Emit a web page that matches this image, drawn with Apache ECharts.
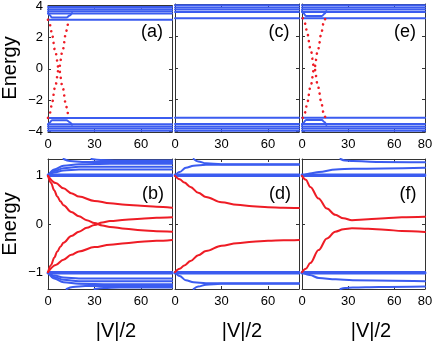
<!DOCTYPE html>
<html>
<head>
<meta charset="utf-8">
<script src="https://cdn.jsdelivr.net/npm/echarts@6/dist/echarts.min.js"></script>
<style>
html, body { margin: 0; padding: 0; background: #fff; }
#box { width: 436px; height: 344px; }
</style>
</head>
<body>
<div id="box"></div>
<script>
const BLUE = '#3b5cf0';
const RED = '#ee1c25';
const FONT = '"Liberation Sans", Arial, sans-serif';

// tick labels
const xTicks = [0, 30, 60];
const xTicksLast = [0, 30, 60, 80];
const yTicksTop = [-4, -2, 0, 2, 4];
const yTicksBottom = [-1, 0, 1];

// top row: flat band levels (a, c, e)
const bandTop = [3.15, 3.55, 3.7, 3.83, 3.97, -3.15, -3.55, -3.7, -3.83, -3.97];
// bracket shaped band edge near |V|/2 = 0..15 in (a), (e)
const bracketAUp = [[0, 3.58], [1, 3.45], [2.5, 3.29], [12, 3.29], [14, 3.42], [15.5, 3.58]];
const bracketADn = [[0, -3.58], [1, -3.45], [2.5, -3.29], [12, -3.29], [14, -3.42], [15.5, -3.58]];
const bracketEUp = [[0, 3.6], [1, 3.46], [2.6, 3.29], [13, 3.29], [14.5, 3.42], [15.8, 3.6]];
const bracketEDn = [[0, -3.6], [1, -3.46], [2.6, -3.29], [13, -3.29], [14.5, -3.42], [15.8, -3.6]];
// red edge states (dotted) in (a), (e)
const edgeA1 = [[0, 3.15], [0.6, 3.08], [1.4, 2.8], [2.5, 2.25], [4.5, 1.2], [7, 0], [9.5, -1.2], [11.5, -2.25], [12.6, -2.8], [13.4, -3.08], [14, -3.15]];
const edgeA2 = [[0, -3.15], [0.6, -3.08], [1.4, -2.8], [2.5, -2.25], [4.5, -1.2], [7, 0], [9.5, 1.2], [11.5, 2.25], [12.6, 2.8], [13.4, 3.08], [14, 3.15]];
const edgeE1 = [[0.5, 3.15], [1.2, 3.08], [2.1, 2.8], [3.3, 2.25], [5.5, 1.2], [8, 0], [10.5, -1.2], [12.7, -2.25], [13.9, -2.8], [14.8, -3.08], [15.5, -3.15]];
const edgeE2 = [[0.5, -3.15], [1.2, -3.08], [2.1, -2.8], [3.3, -2.25], [5.5, -1.2], [8, 0], [10.5, 1.2], [12.7, 2.25], [13.9, 2.8], [14.8, 3.08], [15.5, 3.15]];

// bottom row: thick band at +-1
const bandBottom = [1.0, 1.025, -1.0, -1.025];
// (b) fan lines and edge lines
const bFan = [
  [[0, 1.0], [4, 1.07], [10, 1.11], [20, 1.13], [80, 1.13]],
  [[0, 1.0], [4, 1.1], [10, 1.16], [20, 1.19], [40, 1.19], [80, 1.19]],
  [[0, 1.0], [4, 1.13], [10, 1.21], [20, 1.24], [40, 1.25], [80, 1.25]],
  [[10, 1.35], [14, 1.31], [22, 1.29], [80, 1.29]],
  [[28, 1.35], [34, 1.33], [45, 1.32], [80, 1.32]],
  [[0, -1.0], [4, -1.07], [10, -1.11], [20, -1.13], [80, -1.13]],
  [[0, -1.0], [4, -1.1], [10, -1.16], [20, -1.19], [40, -1.19], [80, -1.19]],
  [[0, -1.0], [4, -1.13], [10, -1.21], [20, -1.24], [40, -1.25], [80, -1.25]],
  [[12, -1.35], [16, -1.31], [24, -1.29], [80, -1.29]],
  [[30, -1.35], [36, -1.33], [46, -1.32], [80, -1.32]]
];
// (d) side lines
const dFan = [
  [[0, 1.0], [3, 1.08], [7, 1.17], [12, 1.21], [20, 1.23], [80, 1.23]],
  [[12, 1.35], [15, 1.3], [20, 1.26], [30, 1.24], [80, 1.24]],
  [[0, -1.0], [3, -1.08], [7, -1.17], [12, -1.21], [20, -1.23], [80, -1.23]],
  [[12, -1.35], [15, -1.3], [20, -1.26], [30, -1.24], [80, -1.24]]
];
// (f) side lines
const fFan = [
  [[0, 1.0], [5, 1.05], [11, 1.08], [22, 1.13], [33, 1.15], [80, 1.17]],
  [[25, 1.35], [28, 1.32], [33, 1.31], [50, 1.29], [80, 1.28]],
  [[0, -1.0], [5, -1.06], [11, -1.12], [22, -1.15], [33, -1.17], [80, -1.19]],
  [[25, -1.35], [28, -1.33], [33, -1.32], [50, -1.31], [80, -1.3]]
];
// red in-gap states
const bRed1 = [[0, 1.0], [5, 0.85], [10, 0.74], [15, 0.64], [20, 0.57], [30, 0.48], [40, 0.43], [50, 0.4], [60, 0.38], [70, 0.36], [80, 0.34]];
const bRed2 = [[0, 1.0], [2, 0.85], [4, 0.7], [6, 0.57], [8, 0.47], [10, 0.39], [15, 0.25], [20, 0.16], [25, 0.08], [30, 0.02], [35, -0.03], [40, -0.06], [50, -0.1], [60, -0.13], [70, -0.15], [80, -0.16]];
const bRed3 = [[0, -1.0], [2, -0.85], [4, -0.7], [6, -0.57], [8, -0.47], [10, -0.39], [15, -0.25], [20, -0.16], [25, -0.08], [30, -0.02], [35, 0.03], [40, 0.06], [50, 0.09], [60, 0.11], [70, 0.13], [80, 0.14]];
const bRed4 = [[0, -1.0], [5, -0.85], [10, -0.74], [15, -0.64], [20, -0.57], [30, -0.48], [40, -0.43], [50, -0.4], [60, -0.37], [70, -0.35], [80, -0.33]];
const dRed1 = [[0, 1.0], [3, 0.93], [6, 0.86], [10, 0.77], [15, 0.65], [20, 0.56], [30, 0.45], [40, 0.4], [50, 0.37], [60, 0.35], [70, 0.34], [80, 0.33]];
const dRed2 = [[0, -1.0], [3, -0.93], [6, -0.86], [10, -0.77], [15, -0.65], [20, -0.56], [30, -0.45], [40, -0.4], [50, -0.37], [60, -0.35], [70, -0.34], [80, -0.33]];
const fRed1 = [[0, 1.0], [2.5, 0.92], [5.4, 0.77], [10.8, 0.53], [16.2, 0.32], [21.6, 0.19], [27, 0.12], [32.5, 0.08], [43, 0.1], [54, 0.12], [65, 0.14], [80, 0.15]];
const fRed2 = [[0, -1.0], [2.5, -0.93], [5.4, -0.81], [10.8, -0.54], [16.2, -0.3], [21.6, -0.16], [27, -0.11], [32.5, -0.09], [43, -0.1], [54, -0.12], [65, -0.145], [80, -0.165]];

const panels = [
  { tag: '(a)', left: 48, top: 4, w: 124, h: 128, yr: 4.05, yt: yTicksTop, xt: xTicks, first: true, tx: 152, ty: 32 },
  { tag: '(c)', left: 175, top: 4, w: 124, h: 128, yr: 4.05, yt: yTicksTop, xt: xTicks, first: false, tx: 279, ty: 32 },
  { tag: '(e)', left: 302, top: 4, w: 123, h: 128, yr: 4.05, yt: yTicksTop, xt: xTicksLast, first: false, tx: 405, ty: 32 },
  { tag: '(b)', left: 48, top: 159, w: 124, h: 130, yr: 1.35, yt: yTicksBottom, xt: xTicks, first: true, tx: 153, ty: 194 },
  { tag: '(d)', left: 175, top: 159, w: 124, h: 130, yr: 1.35, yt: yTicksBottom, xt: xTicks, first: false, tx: 280, ty: 194 },
  { tag: '(f)', left: 302, top: 159, w: 123, h: 130, yr: 1.35, yt: yTicksBottom, xt: xTicksLast, first: false, tx: 408, ty: 194 }
];

const frame = { show: true, onZero: false, lineStyle: { color: '#333', width: 1 } };
const fmtMinus = v => (v < 0 ? '\u2212' + (-v) : String(v));

const grid = [], xAxis = [], yAxis = [], series = [], graphic = [];
panels.forEach((p, i) => {
  grid.push({ left: p.left, top: p.top, width: p.w, height: p.h });
  const base = { gridIndex: i, type: 'value', min: 0, max: 80, axisLine: frame, splitLine: { show: false } };
  xAxis.push({ ...base, position: 'bottom',
    axisTick: { inside: true, length: 3, customValues: [30, 60], lineStyle: { color: '#333' } },
    axisLabel: { customValues: p.xt, margin: 6, fontSize: 13, color: '#000', fontFamily: FONT } });
  xAxis.push({ ...base, position: 'top',
    axisTick: { inside: true, length: 3, customValues: [30, 60], lineStyle: { color: '#333' } },
    axisLabel: { show: false } });
  const yb = { gridIndex: i, type: 'value', min: -p.yr, max: p.yr, axisLine: frame, splitLine: { show: false } };
  yAxis.push({ ...yb, position: 'left',
    axisTick: { inside: true, length: 3, customValues: p.yt, lineStyle: { color: '#333' } },
    axisLabel: { show: p.first, customValues: p.yt, margin: 5, fontSize: 13, color: '#000', fontFamily: FONT, formatter: fmtMinus } });
  yAxis.push({ ...yb, position: 'right',
    axisTick: { inside: true, length: 3, customValues: p.yt, lineStyle: { color: '#333' } },
    axisLabel: { show: false } });
  graphic.push({ type: 'text', x: p.tx, y: p.ty, style: { text: p.tag, font: '18px ' + FONT, fill: '#000', align: 'center', verticalAlign: 'middle' } });
});

function addLine(gi, data, color, width, dash) {
  series.push({
    type: 'line', xAxisIndex: gi * 2, yAxisIndex: gi * 2, data,
    showSymbol: false, symbol: 'none', smooth: 0.35, smoothMonotone: 'x',
    lineStyle: { color, width, type: dash || 'solid', cap: 'round' },
    silent: true, animation: false, z: color === RED ? 3 : 2
  });
}

// top row bands
[0, 1, 2].forEach(gi => bandTop.forEach(v => addLine(gi, [[0, v], [80, v]], BLUE, 2)));
addLine(0, bracketAUp, BLUE, 2); addLine(0, bracketADn, BLUE, 2);
addLine(2, bracketEUp, BLUE, 2); addLine(2, bracketEDn, BLUE, 2);
const DOTS = [0.01, 6];
addLine(0, edgeA1, RED, 2.6, DOTS); addLine(0, edgeA2, RED, 2.6, DOTS);
addLine(2, edgeE1, RED, 2.6, DOTS); addLine(2, edgeE2, RED, 2.6, DOTS);

// bottom row bands
[3, 4, 5].forEach(gi => bandBottom.forEach(v => addLine(gi, [[0, v], [80, v]], BLUE, 2.5)));
bFan.forEach(d => addLine(3, d, BLUE, 2));
dFan.forEach(d => addLine(4, d, BLUE, 2));
fFan.forEach(d => addLine(5, d, BLUE, 2));
[bRed1, bRed2, bRed3, bRed4].forEach(d => addLine(3, d, RED, 2));
[dRed1, dRed2].forEach(d => addLine(4, d, RED, 2));
[fRed1, fRed2].forEach(d => addLine(5, d, RED, 2));

// axis names
graphic.push({ type: 'text', x: 10, y: 68, rotation: Math.PI / 2,
  style: { text: 'Energy', font: '20px ' + FONT, fill: '#000', align: 'center', verticalAlign: 'middle' } });
graphic.push({ type: 'text', x: 10, y: 224, rotation: Math.PI / 2,
  style: { text: 'Energy', font: '20px ' + FONT, fill: '#000', align: 'center', verticalAlign: 'middle' } });
[116, 242, 371].forEach(x => graphic.push({ type: 'text', x, y: 331,
  style: { text: '|V|/2', font: '20px ' + FONT, fill: '#000', align: 'center', verticalAlign: 'middle' } }));

const myChart = echarts.init(document.getElementById('box'), null, { renderer: 'canvas' });
myChart.setOption({ animation: false, grid, xAxis, yAxis, series, graphic });
</script>
</body>
</html>
